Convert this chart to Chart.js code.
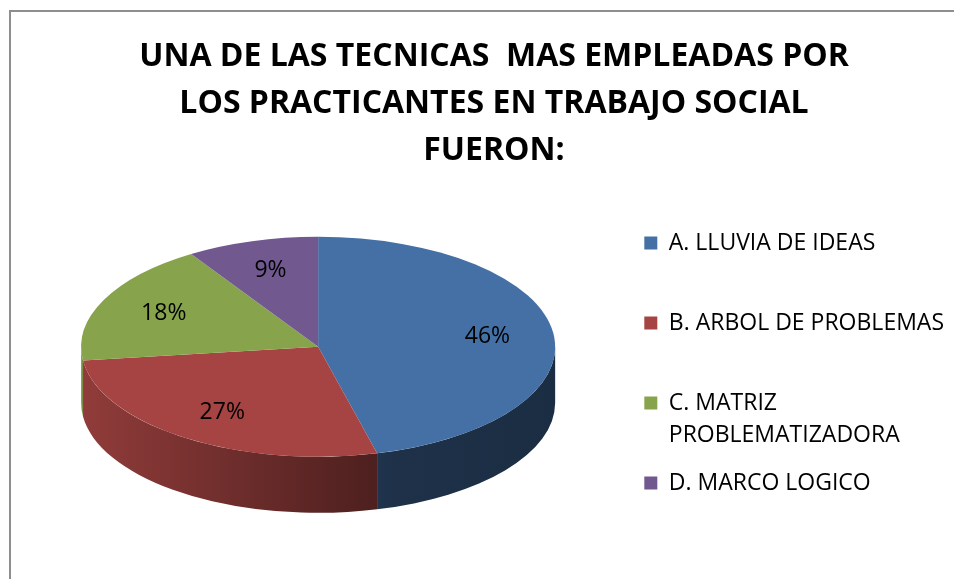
<!DOCTYPE html>
<html>
<head>
<meta charset="utf-8">
<script src="https://cdn.jsdelivr.net/npm/chart.js@4.4.1/dist/chart.umd.min.js"></script>
<style>
  html, body { margin: 0; padding: 0; background: #fff; overflow: hidden; }
  #wrap { position: relative; width: 954px; height: 579px; }
  #frame { position: absolute; left: 9px; top: 10px; width: 1000px; height: 1000px; border: 2px solid #8e8e8e; }
  #myChart { position: absolute; left: 0; top: 0; }
</style>
</head>
<body>
<div id="wrap">
  <div id="frame"></div>
  <canvas id="myChart" width="954" height="579"></canvas>
</div>
<script>
const titleLines = ['UNA DE LAS TECNICAS  MAS EMPLEADAS POR', 'LOS PRACTICANTES EN TRABAJO SOCIAL', 'FUERON:'];
const categories = ['A. LLUVIA DE IDEAS', 'B. ARBOL DE PROBLEMAS', ['C. MATRIZ', 'PROBLEMATIZADORA'], 'D. MARCO LOGICO'];
const values = [46, 27, 18, 9];
const colors = ['#4470a6', '#a54442', '#87a44d', '#71588f'];

function shade(hex, k) {
  const n = parseInt(hex.slice(1), 16);
  const r = Math.round(((n >> 16) & 255) * k);
  const g = Math.round(((n >> 8) & 255) * k);
  const b = Math.round((n & 255) * k);
  return `rgb(${r},${g},${b})`;
}

// fakes the excel 3d look: squash the pie into an ellipse and add the front wall
const pie3d = {
  id: 'pie3d',
  beforeDatasetsDraw(chart, args, opts) {
    const ctx = chart.ctx;
    const arcs = chart.getDatasetMeta(0).data;
    if (!arcs.length) return;
    const a0 = arcs[0];
    const cx = a0.x + opts.shiftX, cy = a0.y + opts.shiftY;
    const rx = opts.rx, ry = opts.ry, d = opts.depth;
    const bg = chart.data.datasets[0].backgroundColor;

    arcs.forEach((arc, i) => {
      const s = Math.max(arc.startAngle, 0);
      const e = Math.min(arc.endAngle, Math.PI);
      if (e <= s) return;
      const g = ctx.createLinearGradient(cx - rx, 0, cx + rx, 0);
      g.addColorStop(0, shade(bg[i], 0.88));
      g.addColorStop(0.66, shade(bg[i], 0.44));
      g.addColorStop(1, shade(bg[i], 0.4));
      ctx.beginPath();
      ctx.ellipse(cx, cy, rx, ry, 0, s, e);
      ctx.ellipse(cx, cy + d, rx, ry, 0, e, s, true);
      ctx.closePath();
      ctx.fillStyle = g;
      ctx.fill();
    });

    ctx.save();
    ctx.translate(cx, cy);
    ctx.scale(rx / a0.outerRadius, ry / a0.outerRadius);
    ctx.translate(-a0.x, -a0.y);
  },
  afterDatasetsDraw(chart, args, opts) {
    const ctx = chart.ctx;
    const arcs = chart.getDatasetMeta(0).data;
    if (!arcs.length) return;
    ctx.restore();

    const a0 = arcs[0];
    const cx = a0.x + opts.shiftX, cy = a0.y + opts.shiftY;
    const data = chart.data.datasets[0].data;
    const total = data.reduce((a, b) => a + b, 0);
    ctx.save();
    ctx.font = opts.labelFont;
    ctx.fillStyle = '#000';
    ctx.textAlign = 'center';
    ctx.textBaseline = 'middle';
    arcs.forEach((arc, i) => {
      const mid = (arc.startAngle + arc.endAngle) / 2;
      const x = cx + opts.rx * opts.labelPos * Math.cos(mid);
      const y = cy + opts.ry * opts.labelPos * Math.sin(mid);
      ctx.fillText(Math.round(data[i] / total * 100) + '%', x, y);
    });
    ctx.restore();
  }
};

const ctx = document.getElementById('myChart');
const defaultLabels = Chart.overrides.pie.plugins.legend.labels.generateLabels;

const config = {
  type: 'pie',
  data: {
    labels: categories,
    datasets: [{
      data: values,
      backgroundColor: colors,
      borderWidth: 0,
      clip: false
    }]
  },
  options: {
    responsive: false,
    animation: false,
    events: [],
    layout: {
      padding: { left: 34, right: 0, top: 0, bottom: 27.5 }
    },
    plugins: {
      title: {
        display: true,
        text: titleLines,
        color: '#000',
        font: { family: 'Open Sans', size: 32, weight: 'bold', lineHeight: 1.46 },
        padding: { top: 34, bottom: 20 }
      },
      legend: {
        position: 'right',
        align: 'end',
        labels: {
          boxWidth: 13,
          boxHeight: 13,
          padding: 16,
          color: '#000',
          font: { family: 'Open Sans', size: 23, lineHeight: 1.391 },
          // every entry gets two text lines so the rows are evenly spaced like excel
          generateLabels(chart) {
            return defaultLabels(chart).map(item => {
              const lines = Array.isArray(item.text) ? item.text.slice() : [item.text];
              while (lines.length < 2) lines.push('');
              item.text = lines;
              return item;
            });
          }
        }
      },
      tooltip: { enabled: false },
      pie3d: {
        rx: 237,
        ry: 110,
        depth: 56,
        shiftX: -13,
        shiftY: -26,
        labelPos: 0.72,
        labelFont: '23px "Open Sans"'
      }
    }
  },
  plugins: [pie3d]
};

let chart = new Chart(ctx, config);
</script>
</body>
</html>
